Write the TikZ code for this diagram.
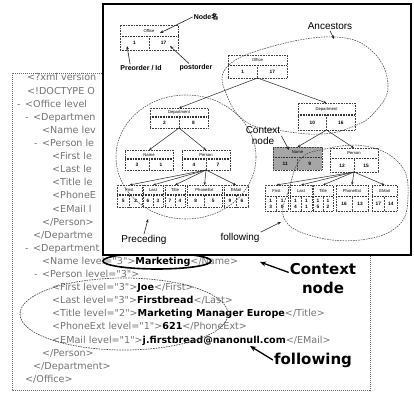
\documentclass[tikz,border=0pt]{standalone}
\usepackage{fontspec}
\setmainfont{Liberation Sans}
\newfontfamily\xmlf{DejaVu Sans}
\newfontfamily\cjkf{Noto Sans CJK JP}
\usetikzlibrary{arrows.meta,calc}

\newcommand{\tg}[1]{{\color{black!55}#1}}
\newcommand{\vl}[1]{{\bfseries\color{black}#1}}

% [style]{name}{x1}{y1}{x2}{y2}{label}{pre}{post}
\newcommand{\tbox}[9][]{%
  \node[tb,#1,minimum width={#5-#3},minimum height={#6-#4}] (#2) at ({(#3+#5)/2},{(#4+#6)/2}) {};
  \draw[sepl] (#3,{#4+0.45*(#6-#4)}) -- (#5,{#4+0.45*(#6-#4)});
  \draw[tbin] ({(#3+#5)/2},{#4+0.45*(#6-#4)}) -- ({(#3+#5)/2},#6);
  \node[lbl] (#2-l) at ({(#3+#5)/2},{#4+0.23*(#6-#4)}) {#7};
  \node[num] (#2-a) at ({#3+0.25*(#5-#3)},{#4+0.73*(#6-#4)}) {#8};
  \node[num] (#2-b) at ({#3+0.75*(#5-#3)},{#4+0.73*(#6-#4)}) {#9};
}

\begin{document}
\begin{tikzpicture}[x=1pt,y=-1pt,
  xl/.style={anchor=base west, inner sep=0pt, font=\xmlf\fontsize{9.6}{11}\selectfont},
  tb/.style={draw=black!75, densely dotted, line width=0.6pt, inner sep=0pt, outer sep=0pt},
  sepl/.style={line width=1.4pt, black!80, dash pattern=on 0.8pt off 0.8pt},
  tbin/.style={black!70, densely dotted, line width=0.5pt},
  lbl/.style={font=\fontsize{4.2}{5}\selectfont, inner sep=0pt},
  num/.style={font=\fontsize{4.8}{5.2}\selectfont\bfseries, inner sep=0pt, align=center},
  conn/.style={black!85, line width=0.5pt, -{Stealth[length=3pt,width=2.4pt]}},
  ann/.style={black!85, line width=0.6pt, -{Stealth[length=3.5pt,width=2.8pt]}},
  bigann/.style={black, line width=1.3pt, -{Stealth[length=6pt,width=5pt]}},
  blob/.style={black!70, line width=0.55pt, dash pattern=on 1.6pt off 1pt},
  backb/.style={black!60, line width=0.6pt, dash pattern=on 1pt off 1pt},
  flab/.style={font=\fontsize{10}{11}\selectfont, inner sep=1pt},
  leg/.style={font=\fontsize{7}{8}\selectfont\bfseries, inner sep=1pt},
  big/.style={font=\xmlf\fontsize{15}{19}\selectfont\bfseries, align=center, inner sep=1pt}
]
\useasboundingbox (0,0) rectangle (414,395);

% ---------- back panel: XML listing ----------
\draw[backb] (12,73) rectangle (370,390);
\begin{scope}
\clip (12,73) rectangle (103,256);
\node[xl] (t1) at (27,81) {\tg{<?xml version}};
\node[xl] (t2) at (27,94.1) {\tg{<!DOCTYPE O}};
\node[xl] (m3) at (17,107.2) {\tg{-}};
\node[xl] (t3) at (25,107.2) {\tg{<Office level}};
\node[xl] (m4) at (25,120.3) {\tg{-}};
\node[xl] (t4) at (33,120.3) {\tg{<Departmen}};
\node[xl] (t5) at (42,133.4) {\tg{<Name lev}};
\node[xl] (m6) at (34,146.5) {\tg{-}};
\node[xl] (t6) at (42,146.5) {\tg{<Person le}};
\node[xl] (t7) at (52,159.6) {\tg{<First le}};
\node[xl] (t8) at (52,172.7) {\tg{<Last le}};
\node[xl] (t9) at (52,185.8) {\tg{<Title le}};
\node[xl] (t10) at (52,198.9) {\tg{<PhoneE}};
\node[xl] (t11) at (52,212) {\tg{<EMail l}};
\node[xl] (t12) at (42,225.1) {\tg{</Person>}};
\node[xl] (t13) at (33,238.2) {\tg{</Departme}};
\node[xl] (m14) at (25,251.3) {\tg{-}};
\node[xl] (t14) at (33,251.3) {\tg{<Department}};
\end{scope}
\node[xl] (t15) at (42,264.4) {\tg{<Name level="3">}\vl{Marketing}\tg{</Name>}};
\node[xl] (m16) at (34,277.5) {\tg{-}};
\node[xl] (t16) at (42,277.5) {\tg{<Person level="3">}};
\node[xl] (t17) at (52,290.6) {\tg{<First level="3">}\vl{Joe}\tg{</First>}};
\node[xl] (t18) at (52,303.7) {\tg{<Last level="3">}\vl{Firstbread}\tg{</Last>}};
\node[xl] (t19) at (52,316.8) {\tg{<Title level="2">}\vl{Marketing Manager Europe}\tg{</Title>}};
\node[xl] (t20) at (52,329.9) {\tg{<PhoneExt level="1">}\vl{621}\tg{</PhoneExt>}};
\node[xl] (t21) at (52,343) {\tg{<EMail level="1">}\vl{j.firstbread@nanonull.com}\tg{</EMail>}};
\node[xl] (t22) at (42,356.1) {\tg{</Person>}};
\node[xl] (t23) at (33,369.2) {\tg{</Department>}};
\node[xl] (t24) at (25,382.3) {\tg{</Office>}};

% context node oval and following ellipse in listing
\draw[black, line width=1.6pt] (157,261) ellipse [x radius=54, y radius=8];
\draw[blob, line width=0.7pt] (124,314) ellipse [x radius=104, y radius=36];

% big annotations
\node[big] (ctxb) at (323,279) {Context\\node};
\coordinate (ctxq) at (260,262);
\draw[bigann] ($(ctxb.north west)!0.3!(ctxb.south west)$) -- (ctxq);
\node[big] (follb) at (313,360) {following};
\coordinate (follq) at (250,346);
\draw[bigann] (follb.west) -- (follq);

% ---------- front panel: tree ----------
\draw[line width=1.1pt, fill=white] (103,4) rectangle (411,255);

% legend
\tbox{lg}{120}{25}{178}{50}{Office}{1}{17}
\node[leg] (nodel) at (206,17) {Node{\cjkf 名}};
\coordinate (lgn) at (160,33);
\draw[ann] (nodel.west) -- (lgn);
\node[leg] (prel) at (141,68) {Preorder / Id};
\coordinate (lgp) at (127,46);
\draw[ann] ($(prel.north west)!0.25!(prel.north east)$) -- (lgp);
\node[leg] (postl) at (196,68) {postorder};
\coordinate (lgq) at (170,46);
\draw[ann] ($(postl.north west)!0.3!(postl.north east)$) -- (lgq);

% tree
\tbox{of}{228}{55}{287}{78}{Office}{1}{17}
\tbox{dl}{150}{108}{208}{128}{Department}{2}{8}
\tbox{dr}{298}{103}{355}{130}{Department}{10}{16}
\tbox{nl}{125}{150}{173}{170}{Name}{3}{1}
\tbox{pl}{182}{150}{230}{170}{Person}{4}{7}
\tbox[fill=black!35]{nr}{273}{147}{322}{170}{Name}{11}{9}
\tbox{pr}{330}{148}{378}{172}{Person}{12}{15}
\tbox{fl}{117}{185}{142}{207}{First}{5}{2}
\tbox{ll}{143}{185}{163}{207}{Last}{6}{3}
\tbox{tl}{165}{185}{185}{207}{Title}{7}{4}
\tbox{phl}{187}{185}{222}{207}{PhoneExt}{8}{5}
\tbox{el}{224}{185}{248}{207}{EMail}{9}{6}
\tbox{fr}{265}{185}{288}{211}{First}{\shortstack{1\\3}}{\shortstack{1\\0}}
\tbox{lr}{290}{185}{312}{211}{Last}{\shortstack{1\\4}}{\shortstack{1\\1}}
\tbox{tr}{313}{185}{333}{211}{Title}{\shortstack{1\\5}}{\shortstack{1\\2}}
\tbox{phr}{336}{185}{368}{211}{PhoneExt}{16}{13}
\tbox{er}{372}{185}{397}{211}{EMail}{17}{14}

\draw[conn] (of.south) -- (dl.north);
\draw[conn] (of.south) -- (dr.north);
\draw[conn] (dl.south) -- (nl.north);
\draw[conn] (dl.south) -- (pl.north);
\foreach \c in {fl,ll,tl,phl,el} \draw[conn] (pl.south) -- (\c.north);
\draw[conn] (dr.south) -- (nr.north);
\draw[conn] (dr.south) -- (pr.north);
\foreach \c in {fr,lr,tr,phr,er} \draw[conn] (pr.south) -- (\c.north);

% regions
\draw[blob] (186,157) ellipse [x radius=70, y radius=62];
\draw[blob] plot[smooth cycle, tension=0.7] coordinates {(226,68) (270,47) (335,37) (373,52) (388,86) (374,113) (352,127) (322,134) (283,131) (248,123) (228,98)};
\draw[blob] plot[smooth cycle, tension=0.7] coordinates {(320,150) (365,146) (400,164) (408,196) (398,226) (360,240) (312,236) (284,218) (290,186) (300,160)};

% region labels
\node[flab] (ancl) at (330,26) {Ancestors};
\coordinate (ancp) at (334,39);
\draw[ann] (ancl.south) -- (ancp);
\node[flab, align=center, font=\fontsize{10}{11}\selectfont] (ctxl) at (263,136) {Context\\node};
\coordinate (ctxp) at (289,150);
\draw[ann] (ctxl.east) -- (ctxp);
\node[flab] (precl) at (144,240) {Preceding};
\coordinate (precp) at (148,219);
\draw[ann] (precl.north) -- (precp);
\node[flab] (folll) at (240,238) {following};
\coordinate (follp) at (281,222);
\draw[ann] (folll.north east) -- (follp);
\end{tikzpicture}
\end{document}
